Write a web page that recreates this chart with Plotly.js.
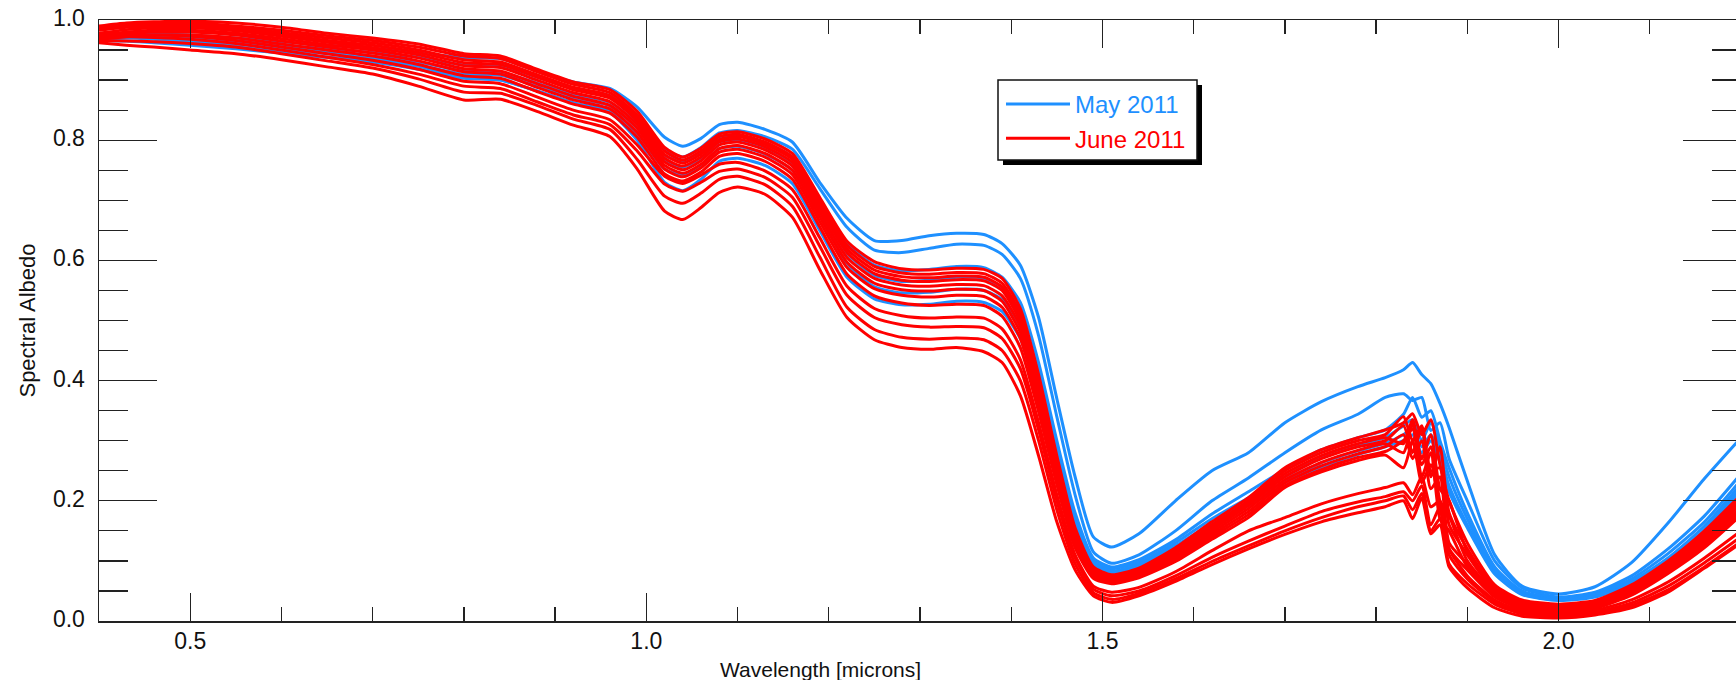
<!DOCTYPE html>
<html><head><meta charset="utf-8">
<script src="https://cdn.plot.ly/plotly-3.0.1.min.js"></script>
<style>html,body{margin:0;padding:0;overflow:hidden;background:#fff}#chart{width:1745px;height:680px}</style>
</head><body><div id="chart"></div>
<script>
const wavelength = [0.40,0.43,0.46,0.50,0.55,0.60,0.65,0.70,0.75,0.80,
 0.84,0.88,0.92,0.96,0.99,1.02,1.04,1.06,1.08,1.10,
 1.13,1.16,1.19,1.22,1.25,1.28,1.31,1.34,1.37,1.39,
 1.41,1.43,1.45,1.47,1.49,1.51,1.54,1.58,1.62,1.66,
 1.70,1.74,1.78,1.81,1.83,1.84,1.85,1.86,1.87,1.88,
 1.90,1.93,1.96,2.00,2.04,2.08,2.12,2.16,2.20];

// May 2011 spectra
const may1 = [0.975,0.978,0.977,0.975,0.970,0.964,0.958,0.953,0.946,0.937,
 0.936,0.915,0.897,0.886,0.855,0.805,0.790,0.803,0.826,0.830,
 0.818,0.797,0.730,0.670,0.633,0.633,0.641,0.645,0.643,0.628,
 0.592,0.505,0.370,0.240,0.140,0.123,0.145,0.200,0.250,0.280,
 0.330,0.365,0.390,0.405,0.418,0.430,0.410,0.395,0.362,0.322,
 0.233,0.110,0.058,0.045,0.057,0.097,0.163,0.237,0.305];
const may2 = [0.970,0.972,0.972,0.970,0.966,0.958,0.952,0.946,0.938,0.925,
 0.924,0.905,0.886,0.874,0.838,0.785,0.772,0.788,0.812,0.816,
 0.806,0.785,0.720,0.655,0.617,0.613,0.620,0.627,0.625,0.610,
 0.570,0.475,0.340,0.210,0.115,0.096,0.110,0.150,0.200,0.238,
 0.280,0.318,0.344,0.372,0.378,0.367,0.372,0.317,0.330,0.270,
 0.200,0.100,0.055,0.040,0.048,0.075,0.120,0.175,0.245];
const may3 = [0.972,0.974,0.973,0.970,0.964,0.955,0.948,0.940,0.930,0.915,
 0.913,0.895,0.876,0.863,0.828,0.775,0.765,0.780,0.805,0.808,
 0.796,0.772,0.700,0.628,0.592,0.583,0.585,0.590,0.588,0.572,
 0.530,0.430,0.300,0.180,0.105,0.090,0.102,0.135,0.178,0.215,
 0.252,0.285,0.305,0.318,0.344,0.372,0.339,0.350,0.300,0.255,
 0.180,0.090,0.050,0.038,0.045,0.070,0.112,0.165,0.235];
const may4 = [0.970,0.971,0.970,0.966,0.960,0.951,0.944,0.936,0.925,0.910,
 0.908,0.890,0.870,0.857,0.820,0.765,0.755,0.770,0.797,0.800,
 0.788,0.762,0.690,0.612,0.575,0.565,0.567,0.572,0.570,0.555,
 0.512,0.415,0.290,0.172,0.100,0.087,0.098,0.130,0.170,0.205,
 0.240,0.272,0.293,0.305,0.325,0.335,0.300,0.330,0.290,0.240,
 0.170,0.085,0.047,0.036,0.043,0.066,0.105,0.158,0.228];
const may5 = [0.968,0.970,0.968,0.963,0.956,0.946,0.938,0.930,0.918,0.903,
 0.900,0.882,0.862,0.848,0.810,0.752,0.742,0.758,0.786,0.790,
 0.777,0.750,0.675,0.595,0.556,0.546,0.547,0.552,0.550,0.535,
 0.490,0.395,0.275,0.165,0.096,0.083,0.094,0.125,0.163,0.198,
 0.232,0.263,0.283,0.296,0.310,0.320,0.290,0.310,0.275,0.225,
 0.160,0.080,0.045,0.035,0.041,0.063,0.100,0.152,0.222];
const may6 = [0.966,0.965,0.962,0.958,0.952,0.945,0.938,0.933,0.923,0.905,
 0.900,0.882,0.862,0.846,0.800,0.730,0.716,0.735,0.765,0.770,
 0.758,0.728,0.650,0.572,0.536,0.526,0.527,0.532,0.530,0.515,
 0.470,0.375,0.260,0.155,0.092,0.080,0.090,0.120,0.158,0.192,
 0.225,0.256,0.277,0.290,0.300,0.310,0.280,0.300,0.265,0.215,
 0.155,0.078,0.044,0.034,0.040,0.061,0.097,0.148,0.218];

// June 2011 spectra
const june1 = [0.990,0.995,0.997,0.998,0.995,0.988,0.978,0.970,0.960,0.944,
 0.940,0.918,0.897,0.884,0.848,0.788,0.772,0.787,0.810,0.814,
 0.802,0.778,0.705,0.632,0.598,0.586,0.584,0.587,0.585,0.570,
 0.520,0.410,0.275,0.155,0.090,0.077,0.088,0.122,0.165,0.205,
 0.255,0.285,0.305,0.318,0.330,0.345,0.310,0.335,0.260,0.200,
 0.130,0.060,0.035,0.028,0.034,0.060,0.100,0.150,0.210];
const june2 = [0.988,0.993,0.995,0.995,0.990,0.983,0.974,0.966,0.955,0.940,
 0.936,0.914,0.893,0.879,0.842,0.782,0.767,0.782,0.806,0.810,
 0.797,0.772,0.698,0.625,0.590,0.579,0.577,0.580,0.578,0.562,
 0.512,0.400,0.267,0.150,0.087,0.074,0.085,0.118,0.160,0.200,
 0.250,0.280,0.300,0.310,0.340,0.300,0.325,0.240,0.290,0.180,
 0.120,0.055,0.032,0.025,0.032,0.057,0.097,0.146,0.205];
const june3 = [0.985,0.990,0.992,0.992,0.987,0.979,0.970,0.962,0.950,0.934,
 0.930,0.909,0.888,0.874,0.837,0.776,0.762,0.777,0.801,0.806,
 0.793,0.768,0.693,0.619,0.584,0.573,0.571,0.574,0.572,0.556,
 0.505,0.393,0.262,0.146,0.085,0.072,0.083,0.115,0.156,0.196,
 0.245,0.275,0.295,0.305,0.295,0.335,0.270,0.310,0.220,0.200,
 0.115,0.052,0.030,0.023,0.030,0.055,0.094,0.142,0.200];
const june4 = [0.983,0.988,0.990,0.990,0.985,0.976,0.966,0.958,0.946,0.929,
 0.926,0.905,0.884,0.870,0.832,0.770,0.757,0.772,0.797,0.802,
 0.789,0.763,0.688,0.613,0.578,0.567,0.565,0.568,0.566,0.550,
 0.498,0.386,0.256,0.142,0.083,0.070,0.081,0.112,0.152,0.192,
 0.240,0.270,0.290,0.300,0.325,0.280,0.320,0.250,0.255,0.160,
 0.110,0.050,0.028,0.021,0.028,0.052,0.091,0.138,0.196];
const june5 = [0.978,0.984,0.987,0.987,0.982,0.973,0.963,0.954,0.942,0.924,
 0.921,0.900,0.879,0.864,0.826,0.764,0.751,0.766,0.792,0.797,
 0.784,0.757,0.681,0.605,0.570,0.559,0.557,0.560,0.558,0.541,
 0.490,0.378,0.250,0.138,0.080,0.068,0.078,0.108,0.148,0.187,
 0.235,0.264,0.284,0.295,0.280,0.330,0.260,0.290,0.200,0.175,
 0.100,0.048,0.026,0.020,0.027,0.050,0.088,0.134,0.190];
const june6 = [0.975,0.980,0.983,0.983,0.978,0.969,0.959,0.950,0.937,0.919,
 0.915,0.894,0.873,0.858,0.820,0.758,0.745,0.760,0.786,0.791,
 0.778,0.750,0.673,0.597,0.562,0.551,0.549,0.552,0.550,0.532,
 0.480,0.370,0.243,0.133,0.077,0.066,0.076,0.105,0.144,0.182,
 0.230,0.258,0.278,0.290,0.310,0.270,0.300,0.220,0.240,0.130,
 0.095,0.045,0.024,0.018,0.025,0.048,0.085,0.130,0.186];
const june7 = [0.972,0.977,0.980,0.980,0.975,0.965,0.955,0.945,0.932,0.914,
 0.910,0.888,0.867,0.852,0.813,0.752,0.739,0.754,0.780,0.785,
 0.772,0.743,0.665,0.588,0.553,0.542,0.539,0.542,0.540,0.522,
 0.470,0.360,0.236,0.128,0.074,0.064,0.074,0.102,0.140,0.177,
 0.225,0.252,0.272,0.282,0.300,0.320,0.240,0.280,0.170,0.150,
 0.090,0.042,0.022,0.016,0.023,0.045,0.082,0.126,0.180];
const june8 = [0.968,0.972,0.975,0.975,0.970,0.960,0.950,0.940,0.926,0.907,
 0.903,0.881,0.860,0.845,0.805,0.744,0.732,0.747,0.773,0.778,
 0.765,0.735,0.656,0.577,0.541,0.529,0.525,0.527,0.525,0.507,
 0.455,0.348,0.227,0.122,0.071,0.062,0.072,0.099,0.136,0.172,
 0.222,0.248,0.267,0.276,0.255,0.300,0.230,0.260,0.190,0.120,
 0.085,0.040,0.020,0.014,0.021,0.043,0.079,0.122,0.176];
const june9 = [0.972,0.975,0.975,0.973,0.966,0.955,0.944,0.933,0.918,0.898,
 0.894,0.872,0.850,0.834,0.792,0.740,0.728,0.742,0.760,0.763,
 0.749,0.718,0.638,0.557,0.520,0.508,0.504,0.506,0.504,0.486,
 0.435,0.330,0.210,0.110,0.058,0.048,0.056,0.082,0.117,0.150,
 0.172,0.195,0.212,0.222,0.230,0.210,0.240,0.190,0.200,0.120,
 0.075,0.035,0.017,0.012,0.018,0.035,0.065,0.105,0.150];
const june10 = [0.970,0.972,0.971,0.968,0.961,0.950,0.938,0.926,0.910,0.890,
 0.886,0.864,0.842,0.826,0.782,0.727,0.715,0.730,0.748,0.752,
 0.738,0.705,0.624,0.542,0.505,0.493,0.489,0.490,0.488,0.470,
 0.420,0.318,0.200,0.105,0.053,0.042,0.050,0.075,0.106,0.133,
 0.158,0.182,0.198,0.207,0.215,0.200,0.225,0.160,0.190,0.110,
 0.070,0.032,0.015,0.010,0.015,0.030,0.058,0.097,0.140];
const june11 = [0.966,0.965,0.964,0.961,0.955,0.944,0.932,0.920,0.902,0.880,
 0.878,0.858,0.835,0.818,0.768,0.707,0.695,0.712,0.735,0.740,
 0.726,0.690,0.606,0.522,0.485,0.472,0.469,0.471,0.468,0.450,
 0.400,0.300,0.185,0.095,0.047,0.036,0.046,0.070,0.099,0.125,
 0.150,0.172,0.190,0.200,0.208,0.185,0.212,0.150,0.170,0.095,
 0.062,0.028,0.012,0.008,0.013,0.026,0.052,0.090,0.132];
const june12 = [0.962,0.958,0.955,0.950,0.944,0.934,0.922,0.910,0.890,0.867,
 0.868,0.848,0.825,0.806,0.752,0.682,0.668,0.688,0.713,0.722,
 0.710,0.672,0.585,0.505,0.468,0.455,0.452,0.455,0.448,0.430,
 0.375,0.275,0.165,0.085,0.042,0.031,0.042,0.066,0.094,0.120,
 0.144,0.165,0.180,0.190,0.200,0.170,0.205,0.145,0.160,0.090,
 0.055,0.022,0.008,0.005,0.010,0.022,0.048,0.088,0.130];

const seriesNames = ['May 2011', 'June 2011'];
const seriesColors = ['#1e90ff', '#ff0000'];
const maySpectra = [may1, may2, may3, may4, may5, may6];
const juneSpectra = [june1, june2, june3, june4, june5, june6, june7, june8, june9, june10, june11, june12];
const xTitle = 'Wavelength [microns]';
const yTitle = 'Spectral Albedo';

const traces = [];
[maySpectra, juneSpectra].forEach((group, g) => {
  group.forEach((ys, i) => {
    traces.push({
      x: wavelength, y: ys, type: 'scatter', mode: 'lines',
      line: {color: seriesColors[g], width: 3, shape: 'spline', smoothing: 0.6},
      name: '<span style="color:' + seriesColors[g] + '">' + seriesNames[g] + '</span>',
      legendgroup: 'g' + g, showlegend: i === 0, hoverinfo: 'skip'
    });
  });
});

const FONT = 'Liberation Sans, Arial, Helvetica, sans-serif';
const axisCommon = {
  showline: true, mirror: 'ticks', linecolor: '#222', linewidth: 1.5,
  ticks: 'inside', tickcolor: '#222', tickwidth: 1.3,
  showgrid: false, zeroline: false, tickformat: '.1f',
  tickfont: {family: FONT, size: 23, color: '#111'}
};

// paper-coordinate helpers for the plot box (99..1741 px, 20..621 px)
const L = 99, R = 1741, T = 20, B = 621;
const px = v => (v - L) / (R - L);
const py = v => (B - v) / (B - T);

const layout = {
  width: 1745, height: 680,
  margin: {l: L, r: 1745 - R, t: T, b: 680 - B},
  paper_bgcolor: '#fff', plot_bgcolor: '#fff',
  font: {family: FONT, color: '#111'},
  showlegend: true,
  xaxis: Object.assign({}, axisCommon, {
    range: [0.4, 2.2], tick0: 0, dtick: 0.5, ticklen: 28, ticklabelstandoff: -1,
    minor: {dtick: 0.1, tick0: 0, ticks: 'inside', ticklen: 14, tickcolor: '#222', tickwidth: 1.3, showgrid: false}
  }),
  yaxis: Object.assign({}, axisCommon, {
    range: [0, 1], tick0: 0, dtick: 0.2, ticklen: 58, ticklabelstandoff: 8, ticklabelshift: -2,
    title: {text: yTitle, font: {family: FONT, size: 22, color: '#111'}, standoff: 11},
    minor: {dtick: 0.05, tick0: 0, ticks: 'inside', ticklen: 29, tickcolor: '#222', tickwidth: 1.3, showgrid: false}
  }),
  legend: {
    x: px(1001), y: py(82), xanchor: 'left', yanchor: 'top',
    bgcolor: 'rgba(0,0,0,0)', borderwidth: 0, itemwidth: 64,
    font: {family: FONT, size: 24}, tracegroupgap: 0, traceorder: 'normal'
  },
  shapes: [
    {type: 'rect', xref: 'paper', yref: 'paper', x0: px(1003), x1: px(1202), y0: py(85), y1: py(165),
     fillcolor: '#000', line: {width: 0}, layer: 'above'},
    {type: 'rect', xref: 'paper', yref: 'paper', x0: px(998), x1: px(1197), y0: py(80), y1: py(160),
     fillcolor: '#fff', line: {color: '#111', width: 1.5}, layer: 'above'}
  ],
  annotations: [
    {text: xTitle, xref: 'paper', yref: 'paper', x: px(820), y: py(669), xanchor: 'center', yanchor: 'middle',
     showarrow: false, font: {family: FONT, size: 21, color: '#111'}}
  ]
};

Plotly.newPlot('chart', traces, layout, {displayModeBar: false, staticPlot: true});
</script>
</body></html>
